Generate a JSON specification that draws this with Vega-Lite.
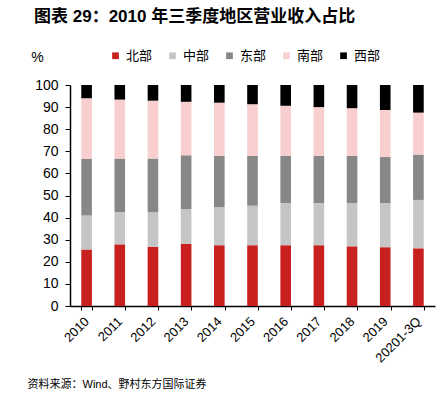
{
  "$schema": "https://vega.github.io/schema/vega-lite/v6.json",
  "width": 365,
  "height": 221,
  "autosize": {"type": "none"},
  "padding": {"left": 70, "top": 85, "right": 13, "bottom": 92},
  "background": "white",
  "title": {
    "text": "图表 29：2010 年三季度地区营业收入占比",
    "anchor": "start",
    "frame": "group",
    "dx": -36,
    "offset": 10,
    "baseline": "alphabetic",
    "fontSize": 17,
    "fontWeight": "bold",
    "font": "Liberation Sans, Noto Sans CJK SC",
    "color": "#000000"
  },
  "data": {
    "values": [
      {"year": "2010", "region": "北部", "ord": 1, "share": 25.6},
      {"year": "2010", "region": "中部", "ord": 2, "share": 15.3},
      {"year": "2010", "region": "东部", "ord": 3, "share": 25.6},
      {"year": "2010", "region": "南部", "ord": 4, "share": 27.5},
      {"year": "2010", "region": "西部", "ord": 5, "share": 6.0},
      {"year": "2011", "region": "北部", "ord": 1, "share": 27.9},
      {"year": "2011", "region": "中部", "ord": 2, "share": 14.6},
      {"year": "2011", "region": "东部", "ord": 3, "share": 24.2},
      {"year": "2011", "region": "南部", "ord": 4, "share": 26.7},
      {"year": "2011", "region": "西部", "ord": 5, "share": 6.6},
      {"year": "2012", "region": "北部", "ord": 1, "share": 26.8},
      {"year": "2012", "region": "中部", "ord": 2, "share": 15.6},
      {"year": "2012", "region": "东部", "ord": 3, "share": 24.3},
      {"year": "2012", "region": "南部", "ord": 4, "share": 26.2},
      {"year": "2012", "region": "西部", "ord": 5, "share": 7.1},
      {"year": "2013", "region": "北部", "ord": 1, "share": 28.2},
      {"year": "2013", "region": "中部", "ord": 2, "share": 15.7},
      {"year": "2013", "region": "东部", "ord": 3, "share": 24.3},
      {"year": "2013", "region": "南部", "ord": 4, "share": 24.2},
      {"year": "2013", "region": "西部", "ord": 5, "share": 7.6},
      {"year": "2014", "region": "北部", "ord": 1, "share": 27.5},
      {"year": "2014", "region": "中部", "ord": 2, "share": 17.3},
      {"year": "2014", "region": "东部", "ord": 3, "share": 23.2},
      {"year": "2014", "region": "南部", "ord": 4, "share": 24.0},
      {"year": "2014", "region": "西部", "ord": 5, "share": 8.0},
      {"year": "2015", "region": "北部", "ord": 1, "share": 27.5},
      {"year": "2015", "region": "中部", "ord": 2, "share": 17.9},
      {"year": "2015", "region": "东部", "ord": 3, "share": 22.5},
      {"year": "2015", "region": "南部", "ord": 4, "share": 23.4},
      {"year": "2015", "region": "西部", "ord": 5, "share": 8.7},
      {"year": "2016", "region": "北部", "ord": 1, "share": 27.5},
      {"year": "2016", "region": "中部", "ord": 2, "share": 19.1},
      {"year": "2016", "region": "东部", "ord": 3, "share": 21.4},
      {"year": "2016", "region": "南部", "ord": 4, "share": 22.6},
      {"year": "2016", "region": "西部", "ord": 5, "share": 9.4},
      {"year": "2017", "region": "北部", "ord": 1, "share": 27.5},
      {"year": "2017", "region": "中部", "ord": 2, "share": 19.1},
      {"year": "2017", "region": "东部", "ord": 3, "share": 21.4},
      {"year": "2017", "region": "南部", "ord": 4, "share": 22.0},
      {"year": "2017", "region": "西部", "ord": 5, "share": 10.0},
      {"year": "2018", "region": "北部", "ord": 1, "share": 27.0},
      {"year": "2018", "region": "中部", "ord": 2, "share": 19.6},
      {"year": "2018", "region": "东部", "ord": 3, "share": 21.4},
      {"year": "2018", "region": "南部", "ord": 4, "share": 21.5},
      {"year": "2018", "region": "西部", "ord": 5, "share": 10.5},
      {"year": "2019", "region": "北部", "ord": 1, "share": 26.6},
      {"year": "2019", "region": "中部", "ord": 2, "share": 20.0},
      {"year": "2019", "region": "东部", "ord": 3, "share": 20.8},
      {"year": "2019", "region": "南部", "ord": 4, "share": 21.3},
      {"year": "2019", "region": "西部", "ord": 5, "share": 11.3},
      {"year": "20201-3Q", "region": "北部", "ord": 1, "share": 26.1},
      {"year": "20201-3Q", "region": "中部", "ord": 2, "share": 21.9},
      {"year": "20201-3Q", "region": "东部", "ord": 3, "share": 20.5},
      {"year": "20201-3Q", "region": "南部", "ord": 4, "share": 19.0},
      {"year": "20201-3Q", "region": "西部", "ord": 5, "share": 12.5}
    ]
  },
  "mark": {"type": "bar"},
  "encoding": {
    "x": {
      "field": "year",
      "type": "ordinal",
      "sort": null,
      "scale": {"paddingInner": 0.68, "paddingOuter": 0.34},
      "axis": {
        "title": "资料来源：Wind、野村东方国际证券",
        "titleX": -43,
        "titleY": 78,
        "titleAlign": "left",
        "titleBaseline": "middle",
        "titleFontSize": 11,
        "titleFontWeight": "normal",
        "titleFont": "Liberation Sans, Noto Sans CJK SC",
        "titleColor": "#000000",
        "labelAngle": -45,
        "labelAlign": "right",
        "labelBaseline": "middle",
        "labelFontSize": 13,
        "labelFont": "Liberation Sans",
        "labelColor": "#000000",
        "labelPadding": 9,
        "tickBand": "extent",
        "tickSize": 4,
        "tickColor": "#000000",
        "domainColor": "#000000",
        "domainWidth": 1.5
      }
    },
    "y": {
      "field": "share",
      "type": "quantitative",
      "stack": "zero",
      "scale": {"domain": [0, 100], "nice": false},
      "axis": {
        "values": [0, 10, 20, 30, 40, 50, 60, 70, 80, 90, 100],
        "grid": false,
        "title": "%",
        "titleAngle": 0,
        "titleX": -33,
        "titleY": -28,
        "titleAlign": "center",
        "titleBaseline": "middle",
        "titleFontSize": 14,
        "titleFontWeight": "normal",
        "titleFont": "Liberation Sans",
        "titleColor": "#000000",
        "labelFontSize": 14,
        "labelFont": "Liberation Sans",
        "labelColor": "#000000",
        "labelPadding": 7,
        "tickSize": 5,
        "tickColor": "#000000",
        "domainColor": "#000000",
        "domainWidth": 1.5
      }
    },
    "color": {
      "field": "region",
      "type": "nominal",
      "scale": {
        "domain": ["北部", "中部", "东部", "南部", "西部"],
        "range": ["#C8201F", "#C5C5C5", "#878787", "#F8CECE", "#000000"]
      },
      "legend": {
        "title": null,
        "orient": "none",
        "legendX": 39,
        "legendY": -36,
        "direction": "horizontal",
        "symbolType": "square",
        "symbolSize": 45,
        "symbolStrokeWidth": 0,
        "labelFontSize": 13,
        "labelFont": "Noto Sans CJK SC",
        "labelColor": "#000000",
        "labelOffset": 4,
        "columnPadding": 13
      }
    },
    "order": {"field": "ord", "type": "quantitative"}
  },
  "config": {
    "view": {"stroke": null}
  }
}
